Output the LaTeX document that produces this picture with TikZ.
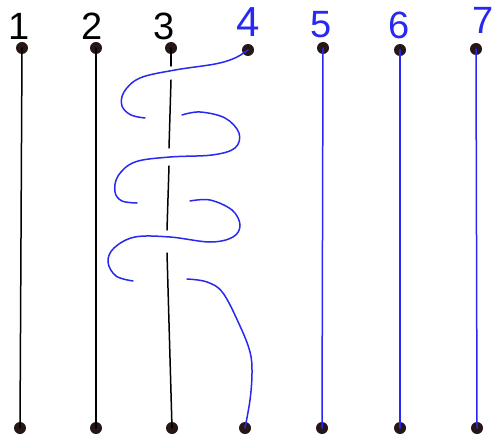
\documentclass[tikz,border=0pt]{standalone}
\usepackage{fontspec}
\setmainfont{Liberation Sans}
\definecolor{dotc}{RGB}{38,22,22}
\definecolor{bl}{RGB}{40,40,240}
\begin{document}
\begin{tikzpicture}[x=1pt,y=-1pt,
 dot/.style={circle,fill=dotc,inner sep=0,minimum size=12pt},
 lab/.style={inner sep=0,font=\fontsize{38}{38}\selectfont},
 kstr/.style={draw=black,line width=1.5pt,line cap=round},
 bstr/.style={draw=bl,line width=1.5pt,line cap=round}]
\useasboundingbox (0,0) rectangle (494,438);
% labels
\node[lab] (l1) at (19,26) {1};
\node[lab] (l2) at (92,26) {2};
\node[lab] (l3) at (164,26) {3};
\node[lab,text=bl,font=\fontsize{42}{42}\selectfont] (l4) at (248,22.5) {4};
\node[lab,text=bl] (l5) at (321,24.5) {5};
\node[lab,text=bl] (l6) at (399,25) {6};
\node[lab,text=bl] (l7) at (483,20) {7};
% dots
\node[dot] (t1) at (22,48) {};
\node[dot] (t2) at (96,48) {};
\node[dot] (t3) at (171,48) {};
\node[dot] (t4) at (248,50) {};
\node[dot] (t5) at (323,48) {};
\node[dot] (t6) at (400,50) {};
\node[dot] (t7) at (476,49) {};
\node[dot] (b1) at (20,428) {};
\node[dot] (b2) at (96,428) {};
\node[dot] (b3) at (172,428) {};
\node[dot] (b4) at (245,428) {};
\node[dot] (b5) at (322,428) {};
\node[dot] (b6) at (400,428) {};
\node[dot] (b7) at (477,428) {};
% straight strands
\draw[kstr] (t1.center) -- (b1.center);
\draw[kstr] (t2.center) -- (b2.center);
\draw[bstr] (t5.center) -- (b5.center);
\draw[bstr] (t6.center) -- (b6.center);
\draw[bstr] (t7.center) -- (b7.center);
% strand 3 with gaps
\coordinate (k1) at (171,66);
\coordinate (k2) at (171,80);
\coordinate (k3) at (169,148);
\coordinate (k4) at (169,166);
\coordinate (k5) at (167,230);
\coordinate (k6) at (167,253);
\draw[kstr] (t3.center) -- (k1);
\draw[kstr] (k2) -- (k3);
\draw[kstr] (k4) -- (k5);
\draw[kstr] (k6) -- (b3.center);
% strand 4 winding round strand 3
\coordinate (a1) at (145,118);
\coordinate (a2) at (182,115);
\coordinate (a3) at (137,203);
\coordinate (a4) at (190,201);
\coordinate (a5) at (133,281);
\coordinate (a6) at (187,279);
\draw[bstr] plot[smooth,tension=0.6] coordinates {(t4.center) (235,58) (215,64) (175,70) (140,78) (124,92) (122,106) (131,115) (a1)};
\draw[bstr] plot[smooth,tension=0.6] coordinates {(a2) (200,112) (225,118) (239,133) (235,148) (212,155) (170,157) (135,162) (118,176) (115,192) (122,201) (a3)};
\draw[bstr] plot[smooth,tension=0.6] coordinates {(a4) (210,200) (232,210) (240,225) (233,237) (210,242) (170,237) (135,237) (114,248) (108,262) (116,276) (a5)};
\draw[bstr] plot[smooth,tension=0.6] coordinates {(a6) (207,282) (223,293) (240,326) (250,352) (252,373) (250,400) (b4.center)};
\end{tikzpicture}
\end{document}
